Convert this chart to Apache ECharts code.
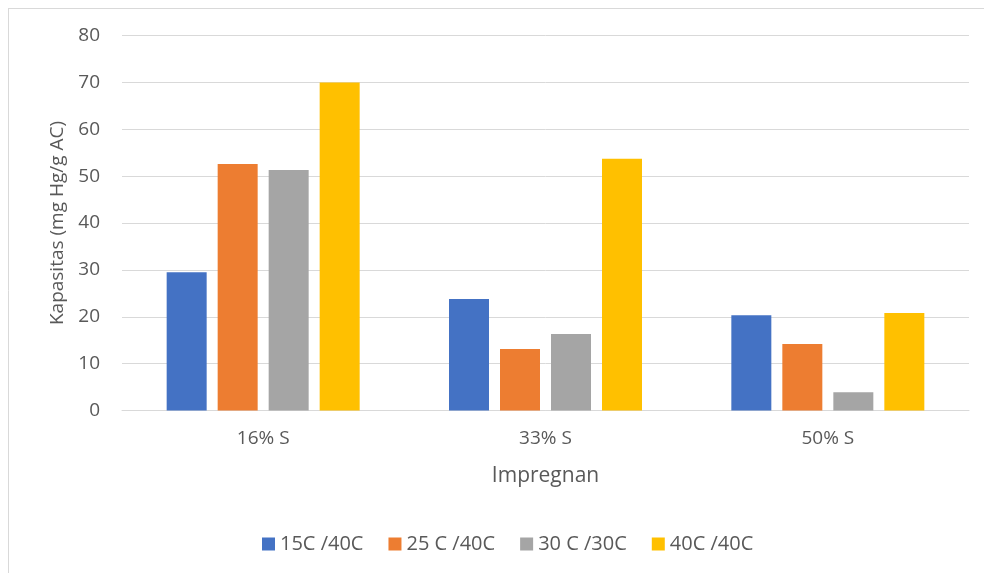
<!DOCTYPE html>
<html>
<head>
<meta charset="utf-8">
<script src="https://cdn.jsdelivr.net/npm/echarts@6/dist/echarts.min.js"></script>
<style>
  html, body { margin: 0; padding: 0; background: #ffffff; }
  #chart { width: 984px; height: 573px; }
</style>
</head>
<body>
<div id="chart"></div>
<script>
// Impregnant sulfur loading groups
const categories = ['16% S', '33% S', '50% S'];

// Mercury adsorption capacity (mg Hg/g AC) for each temperature pair
const seriesNames = ['15C /40C', '25 C /40C', '30 C /30C', '40C /40C'];
const cap15_40 = [29.5, 23.8, 20.3];
const cap25_40 = [52.6, 13.1, 14.2];
const cap30_30 = [51.3, 16.3, 3.9];
const cap40_40 = [70.0, 53.7, 20.8];

const yTicks = { min: 0, max: 80, interval: 10 };

const colors = ['#4472C4', '#ED7D31', '#A5A5A5', '#FFC000'];
const values = [cap15_40, cap25_40, cap30_30, cap40_40];

const FONT = '"Open Sans", "Noto Sans", sans-serif';
const TEXT = '#595959';

const chart = echarts.init(document.getElementById('chart'), null, { renderer: 'canvas' });

chart.setOption({
  animation: false,
  backgroundColor: '#ffffff',
  textStyle: { fontFamily: FONT, color: TEXT },
  graphic: [
    { type: 'line', shape: { x1: 8, y1: 8.5, x2: 984, y2: 8.5 }, style: { stroke: '#d9d9d9', lineWidth: 1 } },
    { type: 'line', shape: { x1: 8.5, y1: 8, x2: 8.5, y2: 573 }, style: { stroke: '#d9d9d9', lineWidth: 1 } }
  ],
  grid: { left: 122, right: 15, top: 35.5, bottom: 162.5, containLabel: false },
  legend: {
    data: seriesNames,
    left: 257,
    top: 529,
    itemWidth: 13,
    itemHeight: 13,
    itemGap: 25,
    icon: 'rect',
    textStyle: { fontFamily: FONT, fontSize: 20, color: TEXT }
  },
  xAxis: {
    type: 'category',
    data: categories,
    name: 'Impregnan',
    nameLocation: 'middle',
    nameGap: 55,
    nameTextStyle: { fontFamily: FONT, fontSize: 21, color: TEXT },
    axisLine: { show: true, lineStyle: { color: '#d9d9d9', width: 1 } },
    axisTick: { show: false },
    axisLabel: { margin: 19, fontFamily: FONT, fontSize: 19, color: TEXT }
  },
  yAxis: {
    type: 'value',
    min: yTicks.min,
    max: yTicks.max,
    interval: yTicks.interval,
    name: 'Kapasitas (mg Hg/g AC)',
    nameLocation: 'middle',
    nameGap: 55,
    nameTextStyle: { fontFamily: FONT, fontSize: 19, color: TEXT },
    axisLine: { show: false },
    axisTick: { show: false },
    axisLabel: { margin: 22, fontFamily: FONT, fontSize: 19, color: TEXT },
    splitLine: { show: true, lineStyle: { color: '#d9d9d9', width: 1 } }
  },
  series: seriesNames.map((name, i) => ({
    name: name,
    type: 'bar',
    data: values[i],
    barWidth: 40,
    barGap: '27.5%',
    itemStyle: { color: colors[i] }
  }))
});
</script>
</body>
</html>
